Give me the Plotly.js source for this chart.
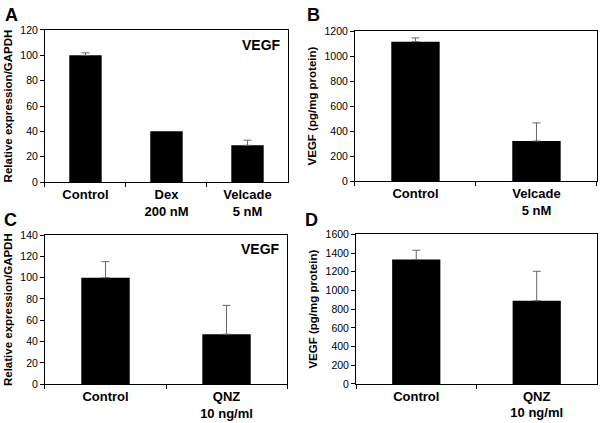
<!DOCTYPE html>
<html>
<head>
<meta charset="utf-8">
<script src="https://cdn.plot.ly/plotly-3.0.1.min.js"></script>
<style>
  body { margin: 0; background: #fff; }
  #chart { width: 603px; height: 423px; }
</style>
</head>
<body>
<div id="chart"></div>
<script>
// panel A: qPCR, dex / velcade (no error bar on Dex)
const catsA = ["Control", "Dex<br>200 nM", "Velcade<br>5 nM"];
const valsA = [100, 40, 29];
const errA = [2, NaN, 4];

// panel B: ELISA, velcade
const catsB = ["Control", "Velcade<br>5 nM"];
const valsB = [1115, 320];
const errB = [30, 145];

// panel C: qPCR, QNZ
const catsC = ["Control", "QNZ<br>10 ng/ml"];
const valsC = [100, 47];
const errC = [15, 27];

// panel D: ELISA, QNZ
const catsD = ["Control", "QNZ<br>10 ng/ml"];
const valsD = [1330, 890];
const errD = [100, 315];

const font = "Liberation Sans, Arial, sans-serif";

function barTrace(cats, vals, errs, xa, ya) {
  return {
    x: cats,
    y: vals,
    type: "bar",
    xaxis: xa,
    yaxis: ya,
    width: 0.4,
    marker: { color: "#000", line: { width: 0 } },
    error_y: {
      type: "data",
      symmetric: false,
      array: errs,
      arrayminus: errs.map(e => (isNaN(e) ? NaN : 0)),
      color: "#666",
      thickness: 1,
      width: 4
    },
    showlegend: false,
    hoverinfo: "none"
  };
}

function xAxis(dom, anchor) {
  return {
    domain: dom,
    anchor: anchor,
    type: "category",
    showline: true,
    mirror: true,
    linecolor: "#000",
    linewidth: 1,
    ticks: "outside",
    tickson: "boundaries",
    ticklen: 4,
    tickcolor: "#000",
    tickfont: { family: font, size: 13, color: "#000", weight: "bold" },
    showgrid: false,
    zeroline: false,
    fixedrange: true
  };
}

function yAxis(dom, anchor, max, step, title) {
  return {
    domain: dom,
    anchor: anchor,
    range: [0, max],
    dtick: step,
    showline: true,
    mirror: true,
    linecolor: "#000",
    linewidth: 1,
    ticks: "outside",
    ticklen: 4,
    tickcolor: "#000",
    tickfont: { family: font, size: 10.5, color: "#000" },
    showgrid: false,
    zeroline: false,
    title: { text: title, font: { family: font, size: 11.5, color: "#000", weight: "bold" }, standoff: 5 },
    fixedrange: true
  };
}

const data = [
  barTrace(catsA, valsA, errA, "x", "y"),
  barTrace(catsB, valsB, errB, "x2", "y2"),
  barTrace(catsC, valsC, errC, "x3", "y3"),
  barTrace(catsD, valsD, errD, "x4", "y4")
];

const letter = (t, x, y) => ({
  text: t, xref: "paper", yref: "paper", x: x, y: y,
  xanchor: "left", yanchor: "top", showarrow: false,
  font: { family: font, size: 18, color: "#000", weight: "bold" }
});

const layout = {
  width: 603,
  height: 423,
  margin: { l: 0, r: 0, t: 0, b: 0 },
  paper_bgcolor: "#fff",
  plot_bgcolor: "#fff",
  xaxis: xAxis([0.0746, 0.4776], "y"),
  yaxis: yAxis([0.5697, 0.9291], "x", 120, 20, "Relative expression/GAPDH"),
  xaxis2: xAxis([0.5887, 0.990], "y2"),
  yaxis2: yAxis([0.5721, 0.9267], "x2", 1200, 200, "VEGF (pg/mg protein)"),
  xaxis3: xAxis([0.0746, 0.4760], "y3"),
  yaxis3: yAxis([0.0915, 0.4444], "x3", 140, 20, "Relative expression/GAPDH"),
  xaxis4: xAxis([0.5904, 0.990], "y4"),
  yaxis4: yAxis([0.0922, 0.4461], "x4", 1600, 200, "VEGF (pg/mg protein)"),
  annotations: [
    letter("A", 0.005, 0.992),
    letter("B", 0.505, 0.992),
    letter("C", 0.003, 0.508),
    letter("D", 0.503, 0.508),
    { text: "VEGF", xref: "x domain", yref: "y domain", x: 0.98, y: 0.97,
      xanchor: "right", yanchor: "top", showarrow: false,
      font: { family: font, size: 14, color: "#000", weight: "bold" } },
    { text: "VEGF", xref: "x3 domain", yref: "y3 domain", x: 0.98, y: 0.97,
      xanchor: "right", yanchor: "top", showarrow: false,
      font: { family: font, size: 14, color: "#000", weight: "bold" } }
  ]
};

Plotly.newPlot("chart", data, layout, { displayModeBar: false, staticPlot: true });
</script>
</body>
</html>
